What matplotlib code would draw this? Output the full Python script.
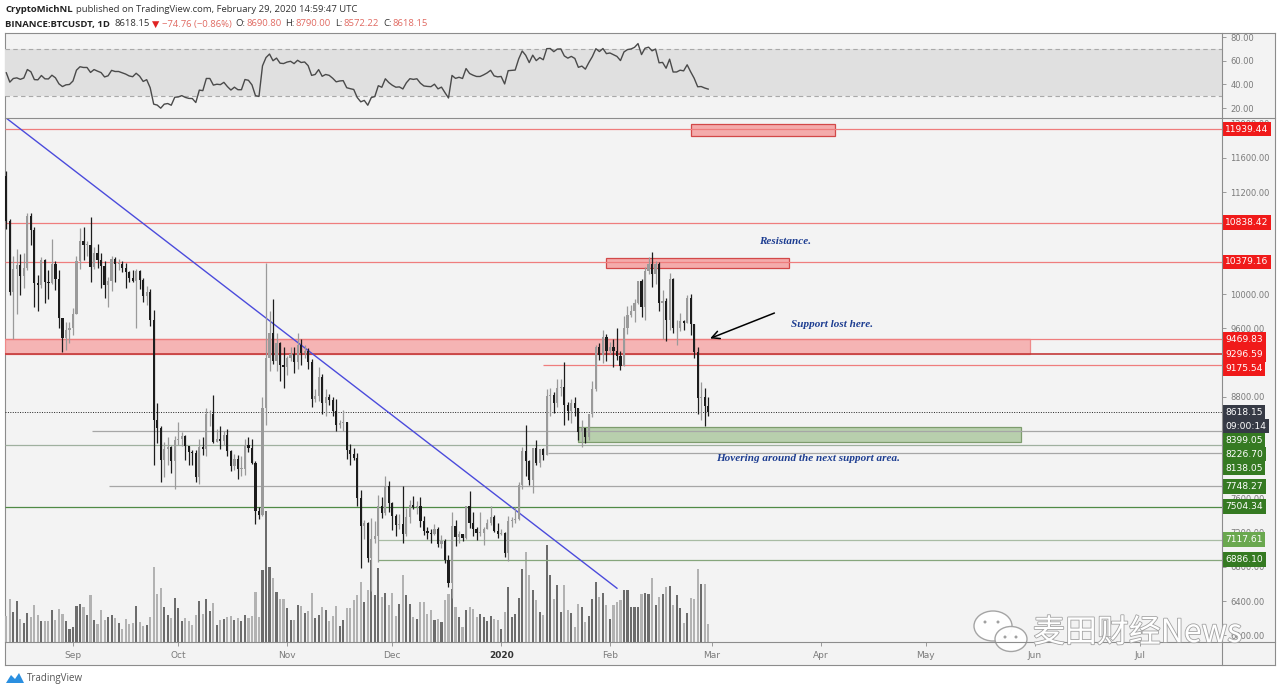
import numpy as np
import matplotlib.pyplot as plt
import matplotlib.patheffects as pe
from matplotlib.patches import Rectangle, Ellipse, Polygon
from matplotlib.lines import Line2D
from matplotlib.transforms import blended_transform_factory

W, H = 1280, 692

# BINANCE:BTCUSDT daily, day 0 = 13 Aug 2019 ... day 200 = 29 Feb 2020
opens = [11385, 10860, 10025, 10300, 10345, 10220, 10310, 10920, 10760, 10130, 10110, 10400, 10140, 10130, 10360, 10180, 9720, 9490, 9580,
         9600, 9770, 10390, 10620, 10580, 10580, 10320, 10480, 10400, 10330, 10110, 10160, 10410, 10360, 10360, 10310, 10260, 10190, 10160, 10270, 10170, 9980, 10030, 9700, 8530, 8430, 8060, 8190, 8210, 8040,
         8290, 8300, 8340, 8220, 8150, 8140, 7860, 8210, 8180, 8590, 8590, 8270, 8300, 8280, 8350, 8160, 7990, 8070, 7950, 7950, 8230, 8200, 8020, 7460, 7410, 8660, 9250, 9550, 9220, 9430, 9170,
         9150, 9250, 9300, 9200, 9400, 9310, 9340, 9200, 8770, 8810, 9030, 8720, 8800, 8760, 8630, 8460, 8490, 8500, 8170, 8120, 8080, 7610, 7280, 7320, 6900, 7130, 7160, 7520, 7430, 7750,
         7550, 7400, 7290, 7300, 7190, 7390, 7530, 7500, 7520, 7340, 7220, 7200, 7190, 7250, 7070, 7110, 6880, 6610, 7280, 7150, 7190, 7140, 7510, 7320, 7250, 7200, 7200, 7250, 7310, 7390, 7220,
         7190, 7200, 6960, 7340, 7350, 7360, 7760, 8160, 8040, 7820, 8200, 8020, 8180, 8110, 8810, 8820, 8720, 8900, 8910, 8700, 8630, 8720, 8660, 8380, 8430, 8330, 8600, 8890, 9380, 9290, 9500,
         9340, 9380, 9330, 9280, 9160, 9610, 9760, 9800, 9900, 10160, 9850, 10270, 10350, 10240, 10360, 9900, 9920, 9700, 10180, 9600, 9600, 9690, 9660, 9960, 9650, 9320, 8780, 8790, 8690.80]
highs = [11445, 10880, 10450, 10530, 10470, 10490, 10950, 10950, 10790, 10230, 10440, 10420, 10280, 10650, 10390, 10290, 9720, 9680, 9670,
         9840, 10450, 10780, 10790, 10630, 10910, 10560, 10590, 10480, 10390, 10200, 10450, 10440, 10420, 10390, 10370, 10270, 10290, 10300, 10290, 10190, 10100, 10060, 9810, 8720, 8450, 8270, 8320, 8220, 8340,
         8500, 8380, 8350, 8220, 8170, 8170, 8300, 8330, 8660, 8640, 8820, 8420, 8450, 8400, 8420, 8170, 8130, 8110, 8100, 8300, 8330, 8300, 8040, 7500, 8800, 10370, 9800, 9950, 9550, 9440, 9380,
         9280, 9380, 9380, 9550, 9480, 9410, 9370, 9240, 8890, 9150, 9070, 8890, 8830, 8790, 8770, 8530, 8640, 8500, 8240, 8200, 8140, 7700, 7350, 7330, 7370, 7340, 7650, 7620, 7870, 7810,
         7560, 7420, 7420, 7750, 7490, 7580, 7630, 7570, 7620, 7400, 7270, 7250, 7300, 7270, 7180, 7130, 6940, 7440, 7350, 7220, 7190, 7520, 7690, 7440, 7270, 7440, 7270, 7360, 7520, 7410, 7320,
         7250, 7210, 7400, 7390, 7500, 7800, 8210, 8460, 8050, 8200, 8290, 8190, 8200, 8890, 8900, 8850, 9010, 9000, 9200, 8730, 8770, 8790, 8670, 8520, 8430, 8600, 8980, 9400, 9430, 9580, 9530,
         9440, 9470, 9600, 9340, 9750, 9860, 9880, 9950, 10160, 10180, 10320, 10440, 10500, 10390, 10380, 10050, 9960, 10250, 10190, 9700, 9780, 9700, 9990, 10000, 9650, 9380, 8970, 8900, 8790.00]
lows = [10770, 9990, 9470, 9770, 9990, 10075, 10280, 10580, 9850, 9800, 10070, 9900, 9950, 10120, 10050, 9600, 9320, 9350, 9430,
        9520, 9770, 10300, 10400, 10450, 10150, 10300, 10310, 10070, 9960, 9850, 10040, 10150, 10290, 10260, 10070, 10140, 10150, 9600, 10060, 9910, 9880, 9630, 8000, 8260, 7800, 7850, 8000, 7900, 7710,
        8230, 8220, 8060, 8000, 8000, 7800, 7770, 8110, 8100, 8450, 8250, 8270, 8180, 8230, 8100, 7930, 7940, 7830, 7870, 7880, 8150, 8010, 7300, 7360, 7400, 8470, 9100, 9180, 9100, 8980, 8900,
        9050, 9220, 9080, 9120, 9170, 9250, 9120, 8680, 8740, 8750, 8600, 8570, 8700, 8570, 8400, 8430, 8400, 8070, 8000, 8050, 7520, 6790, 7130, 6860, 6520, 7080, 6860, 7370, 7410, 7450,
        7230, 7160, 7240, 7080, 7160, 7320, 7480, 7420, 7270, 7170, 7130, 7080, 7180, 7030, 7020, 6850, 6560, 6440, 7040, 7080, 7100, 7130, 7260, 7160, 7120, 7160, 7060, 7240, 7290, 7210, 7140,
        7170, 6920, 6870, 7270, 7310, 7350, 7720, 7870, 7760, 7670, 8000, 7970, 8060, 8110, 8570, 8610, 8680, 8810, 8470, 8520, 8490, 8570, 8290, 8210, 8250, 8290, 8560, 8870, 9230, 9190, 9220,
        9300, 9150, 9230, 9110, 9160, 9530, 9730, 9670, 9890, 9730, 9700, 10240, 10080, 10120, 9800, 9470, 9450, 9580, 9550, 9400, 9570, 9580, 9660, 9520, 9250, 8600, 8530, 8450, 8572.22]
closes = [10860, 10025, 10300, 10345, 10220, 10310, 10920, 10760, 10130, 10110, 10400, 10140, 10130, 10360, 10180, 9720, 9490, 9580, 9600,
          9770, 10390, 10620, 10580, 10580, 10320, 10480, 10400, 10330, 10110, 10160, 10410, 10360, 10360, 10310, 10260, 10190, 10160, 10270, 10170, 9980, 10030, 9700, 8530, 8430, 8060, 8190, 8210, 8040, 8290,
          8300, 8340, 8220, 8150, 8140, 7860, 8210, 8180, 8590, 8590, 8270, 8300, 8280, 8350, 8160, 7990, 8070, 7950, 7950, 8230, 8200, 8020, 7460, 7410, 8660, 9250, 9550, 9220, 9430, 9170, 9150,
          9250, 9300, 9200, 9400, 9310, 9340, 9200, 8770, 8810, 9030, 8720, 8800, 8760, 8630, 8460, 8490, 8500, 8170, 8120, 8080, 7610, 7280, 7320, 6900, 7130, 7160, 7520, 7430, 7750, 7550,
          7400, 7290, 7300, 7190, 7390, 7530, 7500, 7520, 7340, 7220, 7200, 7190, 7250, 7070, 7110, 6880, 6610, 7280, 7150, 7190, 7140, 7510, 7320, 7250, 7200, 7200, 7250, 7310, 7390, 7220, 7190,
          7200, 6960, 7340, 7350, 7360, 7760, 8160, 8040, 7820, 8200, 8020, 8180, 8110, 8810, 8820, 8720, 8900, 8910, 8700, 8630, 8720, 8660, 8380, 8430, 8330, 8600, 8890, 9380, 9290, 9500, 9340,
          9380, 9330, 9280, 9160, 9610, 9760, 9800, 9900, 10160, 9850, 10270, 10350, 10240, 10360, 9900, 9920, 9700, 10180, 9600, 9600, 9690, 9660, 9960, 9650, 9320, 8780, 8790, 8690, 8618.15]
# volume, thousand BTC
volumes = [26, 43, 30, 41, 23, 19, 29, 25, 37, 27, 21, 21, 21, 32, 22, 33, 28, 21, 13,
           15, 36, 38, 35, 27, 47, 22, 18, 32, 22, 25, 27, 24, 19, 13, 23, 18, 19, 36, 20, 16, 17, 25, 75, 48, 54, 35, 27, 24, 44,
           34, 21, 24, 21, 17, 27, 41, 28, 43, 31, 39, 17, 22, 23, 25, 26, 22, 24, 21, 27, 24, 26, 50, 25, 72, 131, 75, 64, 50, 43, 43,
           34, 22, 22, 37, 36, 29, 31, 49, 24, 27, 35, 32, 21, 26, 36, 16, 22, 34, 34, 42, 47, 60, 40, 52, 82, 47, 74, 45, 49, 37,
           49, 26, 38, 67, 47, 38, 25, 23, 40, 40, 28, 32, 22, 23, 20, 42, 48, 53, 35, 25, 15, 32, 35, 33, 25, 28, 25, 21, 26, 23, 22,
           13, 30, 55, 25, 28, 44, 73, 90, 67, 52, 42, 30, 27, 97, 67, 43, 57, 30, 57, 32, 29, 15, 38, 35, 20, 26, 43, 60, 45, 49, 37,
           23, 37, 40, 42, 52, 52, 35, 35, 35, 48, 49, 48, 64, 37, 45, 48, 55, 56, 37, 47, 34, 19, 29, 44, 43, 73, 58, 58, 18]
# closes 1 Jul - 12 Aug 2019, only used to warm up the RSI
warmup_closes = [10580, 10800, 11970, 11150, 10980, 11230, 11480, 12290, 12570, 12100, 11350, 11800, 11370, 10190, 10850, 9420,
                 9680, 10640, 10530, 10760, 10590, 10330, 9910, 9840, 9770, 9880, 9480, 9530, 9500, 9590, 10090,
                 10400, 10520, 10820, 10980, 11800, 11480, 11970, 11980, 11860, 11290, 11560, 11385]

month_pos = [19, 49, 80, 110, 141, 172, 201, 232, 262, 293, 323]
month_labels = ['Sep', 'Oct', 'Nov', 'Dec', '2020', 'Feb', 'Mar', 'Apr', 'May', 'Jun', 'Jul']
price_ticks = [6000, 6400, 6800, 7200, 7600, 8000, 8400, 8800, 9200, 9600, 10000, 10400, 10800, 11200, 11600, 12000]
hidden_ticks = [8000, 8400, 9200, 10400, 10800]   # fully covered by the level labels in the original
rsi_ticks = [20, 40, 60, 80]

red_levels = [11939.44, 10838.42, 10379.16, 9469.83, 9296.59, 9175.54]
red_starts = [-0.4, -0.4, -0.4, -0.4, -0.4, 153]
green_levels = [8399.05, 8226.70, 8138.05, 7748.27, 7504.34, 7117.61, 6886.10]
green_starts = [24.4, -0.4, 154.3, 29.3, -0.4, 105.9, 105.9]
last_price = 8618.15
countdown = '09:00:14'

zone_x0 = [195, 171, -0.4, 163]
zone_x1 = [236, 223, 291.6, 289]
zone_lo = [11858, 10309, 9296.59, 8267]
zone_hi = [12000, 10426, 9469.83, 8443]

trend_x = [-0.4, 174]
trend_y = [12080, 6550]
arrow_tail = (219.6, 9792)
arrow_head = (199.8, 9470)

note_text = ['Resistance.', 'Support lost here.', 'Hovering around the next support area.']
note_x = [222, 235.2, 228.4]
note_y = [10614, 9640, 8067]

# ---- layout helpers (pixel -> figure fraction) ----
def fx(px):
    return px / W

def fy(py):
    return 1 - py / H

XL = (-0.37, 346.4)
YL = (5919, 12069)

fig = plt.figure(figsize=(W / 100, H / 100), dpi=100, facecolor='white')

bg = fig.add_axes([fx(5), fy(665), fx(1275) - fx(5), fy(33) - fy(665)], zorder=-5)
bg.set_facecolor('#f3f3f3')
bg.set_xticks([])
bg.set_yticks([])
for s in bg.spines.values():
    s.set_color('#8c8c8c')
    s.set_linewidth(0.8)

for x0, y0, x1, y1 in [(5, 117.5, 1275, 117.5), (5, 642, 1275, 642), (1222, 33, 1222, 665)]:
    fig.add_artist(Line2D([fx(x0), fx(x1)], [fy(y0), fy(y1)], color='#8c8c8c', lw=0.8))

days = np.arange(len(closes))
o, hi, lo, c = (np.array(a, dtype=float) for a in (opens, highs, lows, closes))
up = c >= o

# ---- RSI(14) ----
src = np.array(warmup_closes + closes, dtype=float)
delta = np.diff(src)
gain = np.clip(delta, 0, None)
loss = np.clip(-delta, 0, None)
ag, al = gain[:14].mean(), loss[:14].mean()
rsi_all = []
for g, ls in zip(gain[14:], loss[14:]):
    ag = (ag * 13 + g) / 14
    al = (al * 13 + ls) / 14
    rsi_all.append(100 - 100 / (1 + ag / al))
rsi = np.array(rsi_all[-len(closes):])

ax_r = fig.add_axes([fx(5), fy(117), fx(1222) - fx(5), (117 - 33) / H])
ax_r.patch.set_visible(False)
ax_r.set_xlim(*XL)
ax_r.set_ylim(12.4, 83.4)
ax_r.axhspan(30, 70, color='#e0e0e0', lw=0)
for lvl in (30, 70):
    ax_r.axhline(lvl, color='#a9a9a9', lw=0.8, ls=(0, (4, 3)))
ax_r.plot(days, rsi, color='#4a4a4a', lw=1.0)
ax_r.yaxis.tick_right()
ax_r.set_yticks(rsi_ticks, [f'{v:.2f}' for v in rsi_ticks])
ax_r.set_xticks([])
ax_r.tick_params(axis='y', length=3, width=0.6, color='#8c8c8c', labelsize=6, labelcolor='#7a7a7a', pad=3)
for s in ax_r.spines.values():
    s.set_visible(False)

# ---- volume overlay ----
rect = [fx(5), fy(642), fx(1222) - fx(5), (642 - 118) / H]
ax_v = fig.add_axes(rect, zorder=0)
ax_v.patch.set_visible(False)
ax_v.set_xlim(*XL)
ax_v.set_ylim(0, 524)
ax_v.bar(days, volumes, width=0.6, color=np.where(up, '#6c6c6c', '#b2b2b2'), lw=0)
ax_v.axis('off')

# ---- price pane ----
ax = fig.add_axes(rect, zorder=1)
ax.patch.set_visible(False)
ax.set_xlim(*XL)
ax.set_ylim(*YL)

# zones
zone_fc = ['#f4abab', '#f4abab', '#f5b4b4', '#b8cfad']
zone_ec = ['#d24848', '#d24848', '#ee8a8a', '#7d9c6d']
for x0, x1, y0, y1, fc, ec in zip(zone_x0, zone_x1, zone_lo, zone_hi, zone_fc, zone_ec):
    ax.add_patch(Rectangle((x0, y0), x1 - x0, y1 - y0, fc=fc, ec=ec, lw=0.9, zorder=1))

for lvl, x0 in zip(red_levels, red_starts):
    col = '#c43a3a' if lvl == 9296.59 else '#ef7d7d'
    ax.hlines(lvl, x0, XL[1], color=col, lw=1.2 if lvl == 9296.59 else 0.9, zorder=2)
green_cols = ['#a6a6a6', '#9fb09f', '#a6a6a6', '#a6a6a6', '#4f8a45', '#a9bca4', '#86a67c']
for lvl, x0, col in zip(green_levels, green_starts, green_cols):
    ax.hlines(lvl, x0, XL[1], color=col, lw=0.9, zorder=2)
ax.hlines(last_price, XL[0], XL[1], color='#222222', lw=0.7, ls=(0, (1, 1.5)), zorder=2)

ax.plot(trend_x, trend_y, color='#4b4bdc', lw=1.0, zorder=3)

# candles
ccol = np.where(up, '#9a9a9a', '#1c1c1c')
ax.vlines(days, lo, hi, colors=ccol, lw=0.9, zorder=4)
ax.bar(days, np.maximum(np.abs(c - o), 10), bottom=np.minimum(o, c), width=0.62, color=ccol, lw=0, zorder=5)

ax.annotate('', xy=arrow_head, xytext=arrow_tail,
            arrowprops=dict(arrowstyle='->', color='black', lw=1.1, mutation_scale=14), zorder=6)
for t, x, y in zip(note_text, note_x, note_y):
    ax.text(x, y, t, ha='center', va='center', fontsize=8, family='Liberation Serif',
            style='italic', weight='bold', color='#1d3d91', zorder=6)

ax.yaxis.tick_right()
ax.set_yticks(price_ticks, ['' if v in hidden_ticks else f'{v:.2f}' for v in price_ticks])
ax.tick_params(axis='y', length=3, width=0.6, color='#8c8c8c', labelsize=6, labelcolor='#7a7a7a', pad=3)
ax.set_xticks(month_pos, month_labels)
ax.tick_params(axis='x', length=3, width=0.6, color='#8c8c8c', labelsize=6.5, labelcolor='#7a7a7a', pad=3.5)
for lab in ax.get_xticklabels():
    if lab.get_text() == '2020':
        lab.set_color('#333333')
        lab.set_fontweight('bold')
for s in ax.spines.values():
    s.set_visible(False)

# right-hand price labels, stacked like TradingView does
gap = 14 * (YL[1] - YL[0]) / 524
entries = [(v, f'{v:.2f}', '#f01a1a') for v in red_levels]
entries.append((last_price, f'{last_price:.2f}', '#363a45'))
entries.append((last_price - gap, countdown, '#363a45'))
for v in green_levels:
    entries.append((v, f'{v:.2f}', '#6aa84f' if v == 7117.61 else '#357a22'))
entries.sort(key=lambda e: -e[0])
blend = blended_transform_factory(ax.transAxes, ax.transData)
prev = None
for v, txt, col in entries:
    pos = v if prev is None else min(v, prev - gap)
    prev = pos
    ax.text(1 + 3 / 1217, pos, txt, transform=blend, ha='left', va='center', fontsize=6.6,
            color='white', clip_on=False, zorder=10,
            bbox=dict(boxstyle='square,pad=0.32', fc=col, ec='none'))

# ---- header: pieces chained one after the other ----
def chain(parts, x, y):
    prev_art = None
    for txt, col, wt, fam, gap_px in parts:
        kw = dict(fontsize=6.8, family=fam, color=col, weight=wt, va='center', ha='left', annotation_clip=False)
        if prev_art is None:
            prev_art = bg.annotate(txt, xy=(fx(x), fy(y)), xycoords='figure fraction', **kw)
        else:
            prev_art = bg.annotate(txt, xy=(1, 0.5), xycoords=prev_art,
                                   xytext=(gap_px * 0.72, 0), textcoords='offset points', **kw)

red_txt = '#e06a62'
dark = '#333333'
chain([('CryptoMichNL', '#222222', 'bold', 'Open Sans', 0),
       ('published on TradingView.com, February 29, 2020 14:59:47 UTC', dark, 'normal', 'Open Sans', 3)], 5, 10)
chain([('BINANCE:BTCUSDT, 1D', '#222222', 'bold', 'Open Sans', 0),
       ('8618.15', dark, 'normal', 'Open Sans', 5),
       ('▼', '#e02424', 'normal', 'DejaVu Sans', 2),
       ('\u221274.76 (\u22120.86%)', red_txt, 'normal', 'Open Sans', 3),
       ('O:', dark, 'normal', 'Open Sans', 3),
       ('8690.80', red_txt, 'normal', 'Open Sans', 1),
       ('H:', dark, 'normal', 'Open Sans', 4),
       ('8790.00', red_txt, 'normal', 'Open Sans', 1),
       ('L:', dark, 'normal', 'Open Sans', 4),
       ('8572.22', red_txt, 'normal', 'Open Sans', 1),
       ('C:', dark, 'normal', 'Open Sans', 4),
       ('8618.15', red_txt, 'normal', 'Open Sans', 1)], 5, 24)

# ---- footer logo ----
fig.add_artist(Polygon([(fx(6), fy(683)), (fx(11), fy(675)), (fx(15), fy(679)), (fx(19), fy(673)),
                        (fx(24), fy(683))], closed=True, fc='#2a8fe0', ec='none'))
fig.text(fx(27), fy(678), 'TradingView', fontsize=7, family='Open Sans', color='#555555', va='center')

# ---- watermark ----
for cx, cy, w, h in [(993, 626, 38, 30), (1011, 639, 32, 25)]:
    fig.add_artist(Ellipse((fx(cx), fy(cy)), w / W, h / H, fc='white', ec='#a0a0a0', lw=1.0, alpha=0.95))
for ex, ey in [(985, 622), (998, 622), (1005, 637), (1016, 637)]:
    fig.add_artist(Ellipse((fx(ex), fy(ey)), 3 / W, 3 / H, fc='#a0a0a0', ec='none'))
fig.text(fx(1033), fy(633), '麦田财经News', fontsize=23, family=['Noto Sans CJK SC', 'DejaVu Sans'],
         color='white', va='center', ha='left',
         path_effects=[pe.Stroke(linewidth=1.2, foreground='#a3a3a3'), pe.Normal()])

fig.savefig('out.png', dpi=100, facecolor='white')
